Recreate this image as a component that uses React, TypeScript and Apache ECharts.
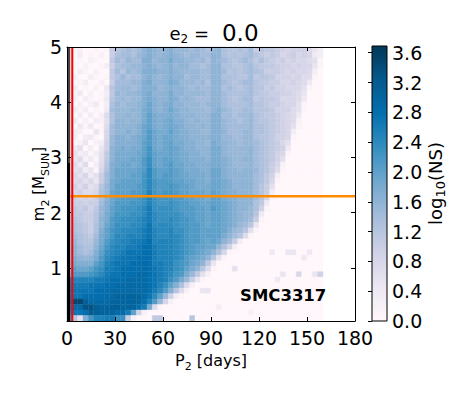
import React, { useEffect, useRef } from "react";
import * as echarts from "echarts";

const FONT = "DejaVu Sans";

const xTicks = [0, 30, 60, 90, 120, 150, 180];
const yTicks = [1, 2, 3, 4, 5];
const barTicks = [0, 0.4, 0.8, 1.2, 1.6, 2.0, 2.4, 2.8, 3.2, 3.6];
const barMax = 3.69;
const puBu = ["#fff7fb", "#ece7f2", "#d0d1e6", "#a6bddb", "#74a9cf", "#3690c0", "#0570b0", "#045a8d", "#023858"];

const periodBinDays = 10 / 3;
const massMin = 0.04;
const massBin = 0.0992;
const redLineP = [3.3, 3.3];
const redLineM = [0.04, 5];
const orangeLineP = [1.9, 180];
const orangeLineM = [2.3, 2.3];
const blackLineP = [1, 1];
const blackLineM = [0.04, 2.9];
const greyLineM = [2.9, 5];

// log10(NS) in tenths; each row lists period bins from P = 0 upward, missing bins are 0. Top row first.
const cells: number[][] = [
  [4,1,2,0,0,1,0,1,10,12, 13,14,13,14,16,17,16,15,16,17, 15,15,15,14,15,14,13,15,16,13, 12,12,13,12,14,10,12,11,11,10, 9,8,9,9,9,7,5,3],
  [4,0,3,0,1,0,2,0,10,13, 14,14,13,15,16,17,16,15,16,17, 16,15,14,15,15,14,14,16,16,13, 12,13,12,13,14,12,11,10,11,10, 8,9,10,8,9,8,4,3],
  [4,0,1,0,2,1,0,0,11,14, 13,15,14,14,17,17,15,16,16,18, 16,16,15,15,14,15,13,16,15,14, 13,12,13,14,13,11,13,11,10,9, 10,8,9,8,8,7,6,1],
  [4,1,0,2,0,0,1,3,10,13, 14,14,15,15,16,17,16,15,16,17, 15,16,16,14,14,13,14,16,16,13, 13,12,12,13,14,12,11,11,11,10, 9,9,8,9,8,8,5,1],
  [4,0,3,1,0,2,0,0,11,14, 12,15,14,15,17,17,17,16,16,17, 16,15,15,15,15,14,14,16,16,14, 12,13,12,13,14,13,12,10,10,10, 9,8,9,8,8,7,3,0],
  [4,2,0,0,3,1,0,1,11,13, 15,13,14,14,16,17,16,15,16,17, 16,16,14,15,15,14,14,16,16,13, 13,13,12,12,14,11,12,12,11,9, 9,9,8,9,7,7,1,0],
  [5,0,1,3,0,0,2,0,10,14, 14,14,15,15,17,18,16,16,16,18, 17,15,15,15,14,15,13,16,16,14, 13,12,13,14,14,12,11,11,10,10, 8,8,9,8,7,4],
  [5,3,0,1,0,2,0,4,12,14, 15,15,14,15,17,17,17,15,16,17, 16,16,15,14,15,14,14,16,16,13, 14,13,12,13,14,12,12,10,11,9, 9,8,8,8,6,1],
  [5,1,4,0,2,0,1,3,11,15, 14,15,15,16,17,18,16,16,16,18, 16,16,15,15,15,15,14,16,16,14, 13,13,13,13,14,12,11,11,10,10, 9,9,8,7,5],
  [5,2,0,3,1,0,1,4,12,14, 15,14,15,15,17,18,17,16,16,18, 17,15,16,15,14,14,14,16,16,14, 13,12,13,14,14,11,12,11,11,10, 8,8,8,7,4],
  [5,0,2,0,2,4,0,3,13,15, 14,15,15,16,17,19,17,16,17,18, 16,16,15,15,15,14,15,16,16,14, 13,13,13,13,14,12,12,11,10,10, 9,8,8,6,1],
  [5,3,1,3,0,1,0,4,14,15, 15,15,16,16,18,19,17,16,17,19, 17,16,16,15,15,15,14,16,17,15, 14,13,13,14,14,12,12,12,11,9, 9,9,7,6,1],
  [5,0,3,0,3,0,2,7,13,15, 15,16,15,16,18,20,18,17,17,18, 17,16,16,16,15,15,15,17,17,14, 14,13,14,14,15,13,12,11,11,10, 9,8,7,4],
  [6,4,0,2,0,3,2,6,13,16, 16,15,16,16,18,20,18,17,18,19, 17,17,16,15,16,15,15,17,17,15, 14,14,13,14,15,13,12,12,11,10, 9,8,7,2],
  [6,0,4,1,4,0,1,7,14,16, 16,16,16,17,19,20,18,17,18,19, 18,17,16,16,15,16,15,17,17,15, 14,14,14,14,15,13,13,12,11,10, 9,8,6,1],
  [6,3,2,0,0,5,1,8,14,16, 16,17,16,17,19,21,19,18,18,20, 18,17,17,16,16,15,15,17,17,16, 14,14,14,15,15,13,13,12,11,10, 9,8,3],
  [6,3,0,3,4,1,0,8,15,17, 17,16,17,18,19,21,19,18,19,19, 18,17,17,16,16,16,16,17,17,15, 15,14,14,15,15,13,12,12,11,9, 9,8,1],
  [6,1,2,5,0,2,3,9,15,17, 17,17,17,18,20,21,19,18,19,20, 18,18,17,17,16,16,15,18,17,16, 15,15,14,15,15,14,13,12,11,10, 8,6],
  [6,4,6,0,3,0,5,9,16,17, 18,17,18,18,20,22,19,18,19,20, 19,18,17,17,16,16,16,18,18,16, 15,15,15,15,16,14,13,12,11,10, 9,4],
  [7,6,3,4,1,3,6,11,16,18, 18,18,18,19,20,22,20,19,19,20, 19,18,18,17,17,16,16,18,18,16, 15,15,15,15,16,14,13,12,11,9, 8,1],
  [7,5,7,2,4,1,6,11,16,18, 18,18,19,19,21,23,20,19,20,20, 19,18,18,17,17,17,16,18,18,17, 16,15,15,16,16,14,13,12,11,9, 6],
  [7,7,4,7,0,3,7,12,17,18, 19,19,18,19,21,23,20,19,20,21, 19,19,18,18,17,17,17,18,18,17, 16,15,15,15,16,14,13,12,10,8, 2],
  [7,6,7,3,5,1,8,13,17,19, 19,19,19,20,21,24,21,20,20,21, 20,19,18,18,18,17,17,19,19,17, 16,16,15,16,16,15,13,12,10,7, 1],
  [8,8,6,8,4,6,10,14,17,19, 19,19,20,20,22,24,21,20,21,21, 20,19,19,18,18,18,17,19,19,17, 16,16,16,16,16,14,13,11,9,3],
  [8,7,8,6,8,5,10,14,18,19, 20,20,20,20,22,24,22,21,21,21, 20,20,19,19,18,18,17,19,19,18, 17,16,16,16,16,14,13,11,8,1],
  [8,9,7,9,6,7,12,15,18,20, 20,20,20,21,22,24,22,21,21,22, 21,20,20,19,18,18,18,19,19,18, 17,16,16,16,16,14,12,10,6],
  [8,8,9,7,7,8,13,15,19,20, 20,20,21,21,22,25,22,21,22,22, 21,20,20,19,19,19,18,20,19,18, 17,17,16,16,16,14,12,10,3],
  [9,10,8,9,8,10,13,16,19,20, 21,21,21,22,23,25,23,22,22,22, 21,21,20,20,19,19,18,20,20,18, 17,17,16,16,16,14,12,8,1],
  [9,10,10,9,10,10,14,17,19,21, 21,21,22,22,23,25,23,22,22,23, 22,21,21,20,20,19,19,20,20,19, 18,17,16,16,16,13,11,4],
  [9,11,10,11,9,11,15,17,20,21, 22,22,22,23,24,26,23,23,23,23, 22,21,21,21,20,20,19,21,20,19, 18,17,16,16,15,13,9,1],
  [10,11,11,10,10,12,15,18,20,22, 22,22,23,23,24,26,24,23,23,23, 23,22,21,21,20,20,19,20,20,19, 18,17,16,15,15,12,4],
  [10,12,11,10,10,12,16,18,21,22, 23,23,23,24,25,26,24,23,23,24, 23,22,22,21,20,20,19,20,20,19, 18,17,16,15,14,10,1],
  [10,13,12,11,10,13,16,19,21,23, 23,23,24,24,25,27,24,24,24,24, 23,22,22,21,21,20,19,20,20,19, 18,17,15,14,12,5],
  [11,13,12,11,10,13,17,20,22,23, 24,24,24,25,26,27,25,24,24,25, 23,23,22,21,21,20,20,20,20,19, 17,15,14,12,6,1],
  [11,14,13,12,11,14,18,20,22,24, 24,25,25,25,26,27,25,24,24,25, 24,23,22,21,21,20,20,20,20,18, 16,14,12,7,1],
  [11,15,13,12,12,15,18,21,23,24, 25,25,26,26,27,28,25,25,25,25, 24,23,22,21,21,20,19,20,19,16, 14,10,3],
  [12,16,14,13,13,16,19,22,24,25, 25,26,26,27,28,28,26,25,25,25, 24,23,22,21,20,20,19,19,16,13, 9,3],
  [13,16,14,13,14,17,20,23,24,25, 26,27,27,27,28,28,26,25,25,25, 24,23,22,21,20,19,18,16,13,8, 1,0,0,0,0,0,0,0,4,0, 0,5,5,0,0,4],
  [13,17,16,15,16,18,21,24,25,26, 27,27,27,28,28,28,26,25,25,25, 24,23,21,20,19,18,16,12,6,1, 0,0,0,0,0,0,0,0,0,0, 0,0,0,0,4],
  [14,18,17,17,17,20,22,25,26,27, 27,27,28,28,29,28,26,26,25,25, 23,22,21,19,18,16,11,5],
  [15,20,19,19,20,22,23,26,26,27, 28,28,28,28,29,28,27,26,25,25, 23,22,20,18,16,12,7,1,0,0, 0,6],
  [16,21,21,21,22,23,24,26,27,27, 28,28,28,29,29,28,27,26,25,24, 22,21,18,15,11,6,2,0,0,0, 0,0,0,0,0,0,0,0,0,0, 5,0,0,8,0,0,5,9],
  [24,25,25,25,25,26,26,27,28,28, 28,29,29,29,29,28,27,26,25,23, 21,18,15,10,5,1,0,0,0,0, 0,0,0,0,0,0,0,0,0,4],
  [25,26,26,26,27,27,27,28,28,29, 29,29,29,29,29,28,27,25,23,20, 17,13,7,2],
  [26,27,27,27,27,28,28,28,29,29, 29,29,29,29,29,28,26,24,21,17, 12,7,2,0,0,5,5],
  [26,27,27,28,28,28,28,29,29,30, 30,30,30,30,29,27,24,20,15,9, 3,1],
  [27,35,35,31,29,29,29,29,30,30, 30,30,30,30,28,25,21,15,8,2],
  [26,29,29,33,33,31,30,30,31,31, 30,30,30,28,26,18,7,1,0,0, 0,0,0,0,0,0,0,0,3],
  [25,27,27,28,32,31,30,30,30,29, 29,26,20,9,2,0,0,0,0,0, 0,0,0,0,0,0,0,0,0,0, 0,0,0,0,2],
  [22,12,6,17,22,25,25,26,26,23, 23,10,2,0,0,0,11,11,0,0, 0,0,0,12],
];

const periodBinCount = 48;

function buildCells() {
  const out: number[][] = [];
  const rows = cells.length;
  cells.forEach((row, r) => {
    const j = rows - 1 - r;
    for (let c = 0; c < periodBinCount; c++) {
      const v = (row[c] ?? 0) / 10;
      out.push([c * periodBinDays, (c + 1) * periodBinDays, massMin + j * massBin, massMin + (j + 1) * massBin, v]);
    }
  });
  return out;
}

function rectItem(_: any, api: any) {
  const a = api.coord([api.value(0), api.value(2)]);
  const b = api.coord([api.value(1), api.value(3)]);
  const color = api.visual("color");
  return {
    type: "rect",
    shape: { x: a[0], y: b[1], width: b[0] - a[0], height: a[1] - b[1] },
    style: { fill: color, stroke: color, lineWidth: 0.4 },
  };
}

function barItem(_: any, api: any) {
  const a = api.coord([0, api.value(0)]);
  const b = api.coord([1, api.value(1)]);
  return {
    type: "rect",
    shape: { x: a[0], y: b[1], width: b[0] - a[0], height: a[1] - b[1] },
    style: {
      fill: new echarts.graphic.LinearGradient(0, 1, 0, 0, puBu.map((color, i) => ({ offset: i / (puBu.length - 1), color }))),
      stroke: "#000",
      lineWidth: 1,
    },
  };
}

const sub = { fontFamily: FONT, fontSize: 10, fontWeight: "normal", verticalAlign: "bottom", lineHeight: 24, color: "#000" };

export default function App() {
  const ref = useRef<HTMLDivElement>(null);
  useEffect(() => {
    const chart = echarts.init(ref.current!, undefined, { renderer: "svg" });
    const tickStyle = { show: true, inside: true, length: 4, lineStyle: { color: "#000", width: 1 } };
    const lineStyle = { show: true, onZero: false, lineStyle: { color: "#000", width: 1 } };
    const labelStyle = { fontFamily: FONT, fontSize: 19, color: "#000" };
    const nameRich = (size: number) => ({
      s: { ...sub, fontSize: Math.round(size * 0.7) },
      b: { fontFamily: FONT, fontSize: size, fontWeight: "normal", color: "#000", lineHeight: 24 },
    });
    chart.setOption({
      animation: false,
      backgroundColor: "#fff",
      title: {
        text: "{m|e}{s|2}{m| = }{v| 0.0}",
        left: 209,
        top: 16,
        textAlign: "center",
        textStyle: {
          fontWeight: "normal",
          rich: {
            m: { fontFamily: FONT, fontSize: 18, fontWeight: "normal", color: "#000", lineHeight: 24 },
            s: { ...sub, fontSize: 12 },
            v: { fontFamily: FONT, fontSize: 23, fontWeight: "normal", color: "#000", lineHeight: 24 },
          },
        },
      },
      grid: [
        { left: 67, top: 47, width: 288, height: 274 },
        { left: 372, top: 46, width: 15, height: 275 },
      ],
      xAxis: [
        {
          type: "value", gridIndex: 0, min: 0, max: 180, interval: 30, position: "bottom", z: 5,
          axisLine: lineStyle, axisTick: tickStyle, splitLine: { show: false },
          axisLabel: { ...labelStyle, margin: 7, customValues: xTicks },
          name: "{b|P}{s|2} {b|[days]}", nameLocation: "middle", nameGap: 27, nameMoveOverlap: false,
          nameTextStyle: { fontFamily: FONT, fontSize: 16, color: "#000", rich: nameRich(16) },
        },
        {
          type: "value", gridIndex: 0, min: 0, max: 180, interval: 30, position: "top", z: 5,
          axisLine: lineStyle, axisTick: tickStyle, axisLabel: { show: false }, splitLine: { show: false },
        },
        { type: "value", gridIndex: 1, min: 0, max: 1, show: false },
      ],
      yAxis: [
        {
          type: "value", gridIndex: 0, min: massMin, max: 5, position: "left", z: 5,
          axisLine: lineStyle, splitLine: { show: false },
          axisTick: { ...tickStyle, customValues: yTicks },
          axisLabel: { ...labelStyle, margin: 5, customValues: yTicks },
          name: "{b|m}{s|2} {b|[M}{s|SUN}{b|]}", nameLocation: "middle", nameGap: 16, nameMoveOverlap: false,
          nameTextStyle: { fontFamily: FONT, fontSize: 15, color: "#000", rich: nameRich(15) },
        },
        {
          type: "value", gridIndex: 0, min: massMin, max: 5, position: "right", z: 5,
          axisLine: lineStyle, splitLine: { show: false },
          axisTick: { ...tickStyle, customValues: yTicks },
          axisLabel: { show: false },
        },
        {
          type: "value", gridIndex: 1, min: 0, max: barMax, position: "right", z: 5,
          axisLine: { show: false }, splitLine: { show: false },
          axisTick: { ...tickStyle, customValues: barTicks },
          axisLabel: { ...labelStyle, margin: 5, customValues: barTicks, formatter: (v: number) => v.toFixed(1) },
          name: "{b|log}{s|10}{b|(NS)}", nameLocation: "middle", nameGap: 36,
          nameTextStyle: { fontFamily: FONT, fontSize: 18, color: "#000", rich: nameRich(18) },
        },
      ],
      visualMap: {
        show: false, type: "continuous", min: 0, max: barMax, dimension: 4, seriesIndex: 0,
        inRange: { color: puBu },
      },
      series: [
        {
          type: "custom", xAxisIndex: 0, yAxisIndex: 0, z: 2, renderItem: rectItem,
          encode: { x: [0, 1], y: [2, 3] }, data: buildCells(), silent: true,
        },
        {
          type: "custom", xAxisIndex: 2, yAxisIndex: 2, z: 2, renderItem: barItem,
          encode: { y: [0, 1] }, data: [[0, barMax]], silent: true,
        },
        {
          type: "line", xAxisIndex: 0, yAxisIndex: 0, z: 3, symbol: "none", silent: true,
          lineStyle: { color: "#444", width: 3 },
          data: blackLineP.map((p, i) => [p, greyLineM[i]]),
        },
        {
          type: "line", xAxisIndex: 0, yAxisIndex: 0, z: 3, symbol: "none", silent: true,
          lineStyle: { color: "#000", width: 3 },
          data: blackLineP.map((p, i) => [p, blackLineM[i]]),
        },
        {
          type: "line", xAxisIndex: 0, yAxisIndex: 0, z: 3, symbol: "none", silent: true,
          lineStyle: { color: "#ff8c00", width: 2.5 },
          data: orangeLineP.map((p, i) => [p, orangeLineM[i]]),
        },
        {
          type: "line", xAxisIndex: 0, yAxisIndex: 0, z: 4, symbol: "none", silent: true,
          lineStyle: { color: "#ff0000", width: 2 },
          data: redLineP.map((p, i) => [p, redLineM[i]]),
        },
      ],
      graphic: [
        {
          type: "text", x: 240, y: 287, z: 10,
          style: { text: "SMC3317", fontFamily: FONT, fontSize: 16.5, fontWeight: "bold", fill: "#000" },
        },
      ],
    });
    return () => chart.dispose();
  }, []);
  return <div ref={ref} style={{ position: "fixed", left: 0, top: 0, width: 474, height: 395 }} />;
}
